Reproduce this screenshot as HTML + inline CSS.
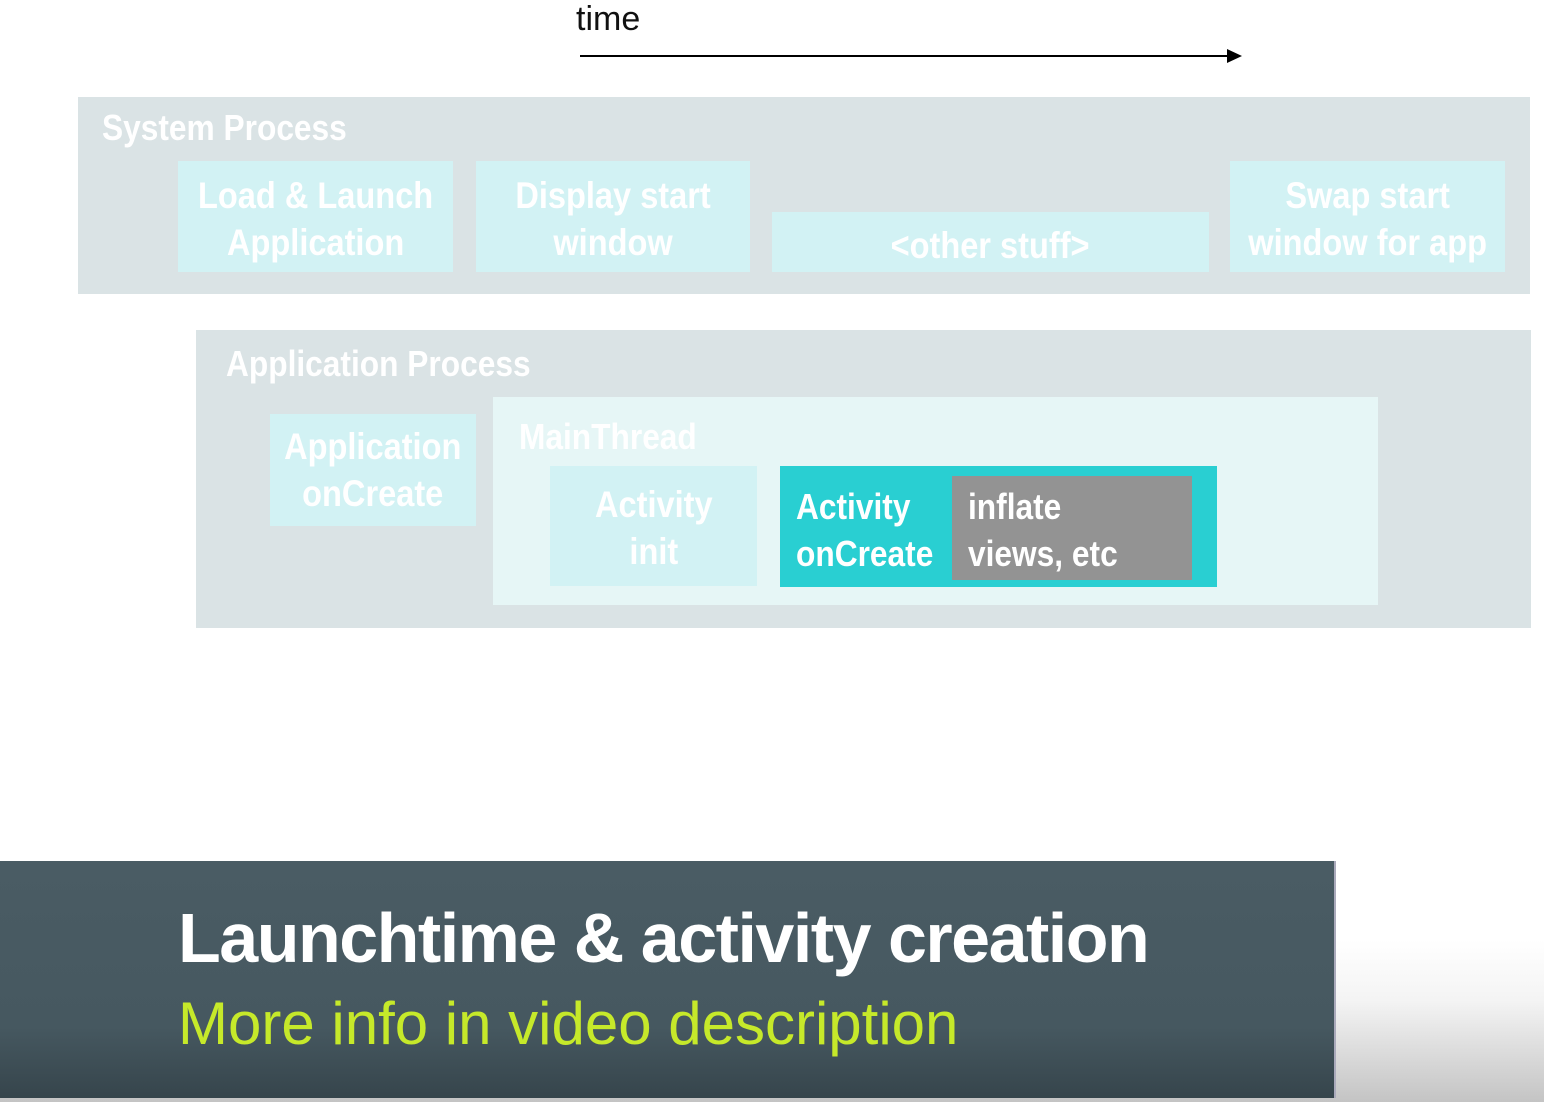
<!DOCTYPE html>
<html><head><meta charset="utf-8"><style>
body{margin:0;width:1544px;height:1102px;position:relative;overflow:hidden;background:linear-gradient(#fff 0,#fff 940px,#f4f4f4 1000px,#c4c4c4 1102px);font-family:"Liberation Sans",sans-serif;font-weight:bold}
div{position:absolute;box-sizing:border-box}
.b{background:#d2f2f4;color:#fff;font-size:37px;line-height:47px;text-align:center;display:flex;align-items:center;justify-content:center;white-space:nowrap}
.b span,.t span{display:inline-block;transform:scaleX(.88)}
.t{color:#fff;font-size:36px;white-space:nowrap}
.t span{transform-origin:left center}
</style></head><body>
<div style="left:576px;top:0;font-weight:normal;font-size:34px;color:#111">time</div>
<div style="left:580px;top:55px;width:650px;height:2px;background:#000"></div>
<div style="left:1227px;top:49px;width:0;height:0;border-left:15px solid #000;border-top:7px solid transparent;border-bottom:7px solid transparent"></div>

<div style="left:78px;top:97px;width:1452px;height:197px;background:#dae3e5"></div>
<div class="t" style="left:102px;top:107px"><span>System Process</span></div>
<div class="b" style="left:178px;top:161px;width:275px;height:111px;padding-top:4px"><span>Load &amp; Launch<br>Application</span></div>
<div class="b" style="left:476px;top:161px;width:274px;height:111px;padding-top:4px"><span>Display start<br>window</span></div>
<div class="b" style="left:772px;top:212px;width:437px;height:60px;padding-top:6px"><span>&lt;other stuff&gt;</span></div>
<div class="b" style="left:1230px;top:161px;width:275px;height:111px;padding-top:4px"><span>Swap start<br>window for app</span></div>

<div style="left:196px;top:330px;width:1335px;height:298px;background:#dae3e5"></div>
<div class="t" style="left:226px;top:343px"><span>Application Process</span></div>
<div class="b" style="left:270px;top:414px;width:206px;height:112px"><span>Application<br>onCreate</span></div>
<div style="left:493px;top:397px;width:885px;height:208px;background:#e6f6f6"></div>
<div class="t" style="left:519px;top:416px"><span>MainThread</span></div>
<div class="b" style="left:550px;top:466px;width:207px;height:120px;padding-top:4px"><span>Activity<br>init</span></div>
<div style="left:780px;top:466px;width:437px;height:121px;background:#29cfd2"></div>
<div class="t" style="left:796px;top:483px;line-height:47px"><span>Activity<br>onCreate</span></div>
<div style="left:952px;top:476px;width:240px;height:104px;background:#939393"></div>
<div class="t" style="left:968px;top:483px;line-height:47px"><span>inflate<br>views, etc</span></div>

<div style="left:0;top:861px;width:1336px;height:237px;background:linear-gradient(#4a5c64,#465860 70%,#36454c);border-right:2px solid #aab"></div>
<div style="left:178px;top:898px;color:#fff;font-size:70px;letter-spacing:-1.5px;white-space:nowrap">Launchtime &amp; activity creation</div>
<div style="left:178px;top:989px;color:#c6e92a;font-size:60px;font-weight:normal;white-space:nowrap">More info in video description</div>
</body></html>
